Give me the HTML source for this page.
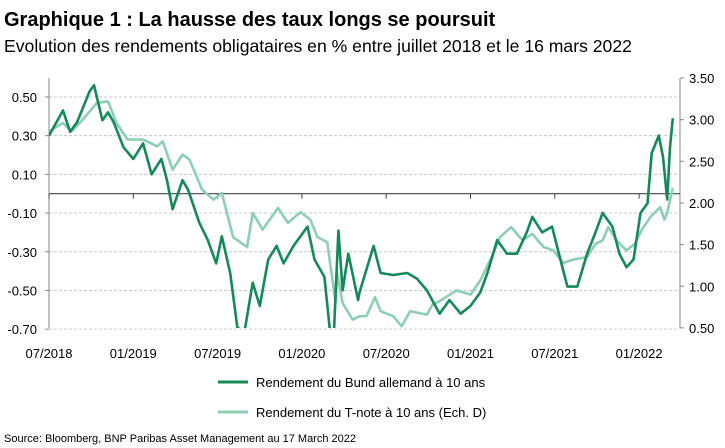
<!DOCTYPE html>
<html><head><meta charset="utf-8"><style>
body{margin:0;background:#fff;font-family:"Liberation Sans",sans-serif;}
#wrap{position:relative;width:725px;height:448px;overflow:hidden;}
</style></head><body>
<div id="wrap">
<svg id="chart" width="725" height="448">
<text x="4" y="26" font-size="20" font-weight="bold" fill="#000">Graphique 1 : La hausse des taux longs se poursuit</text>
<text x="4" y="52" font-size="17.6" fill="#000">Evolution des rendements obligataires en % entre juillet 2018 et le 16 mars 2022</text>
<g id="grid"></g><g id="axes"></g>
<defs><clipPath id="clip"><rect x="49" y="78" width="631" height="250"/></clipPath></defs>
<g id="series" clip-path="url(#clip)"></g>
<line x1="218" y1="382" x2="248" y2="382" stroke="#148a59" stroke-width="3"/>
<text x="256" y="387" font-size="13">Rendement du Bund allemand à 10 ans</text>
<line x1="218" y1="412" x2="248" y2="412" stroke="#8ecfb4" stroke-width="3"/>
<text x="256" y="417" font-size="13">Rendement du T-note à 10 ans (Ech. D)</text>
<text x="4" y="442" font-size="11">Source: Bloomberg, BNP Paribas Asset Management au 17 March 2022</text>
</svg></div>
<script>
const leftTicks=[0.50,0.30,0.10,-0.10,-0.30,-0.50,-0.70];
const rightTicks=[3.50,3.00,2.50,2.00,1.50,1.00,0.50];
const xTickMonths=[0,6,12,18,24,30,36,42];
const xTickLabels=["07/2018","01/2019","07/2019","01/2020","07/2020","01/2021","07/2021","01/2022"];
const bundMonths=[0,1.0,1.5,2.0,2.9,3.2,3.8,4.2,4.6,5.3,6.0,6.7,7.3,8.0,8.4,8.8,9.5,9.9,10.7,11.3,11.9,12.3,12.9,13.4,13.9,14.5,15.0,15.6,16.2,16.7,17.4,18.4,18.9,19.6,20.2,20.6,20.9,21.3,22.0,22.1,23.1,23.6,24.5,25.5,26.2,26.9,27.8,28.5,29.3,30.0,30.7,31.2,31.9,32.6,33.3,34.0,34.4,35.1,35.8,36.4,36.9,37.6,38.3,38.9,39.4,40.1,40.6,41.1,41.6,42.1,42.6,42.9,43.4,43.7,44.0,44.2,44.4];
const bundValues=[0.30,0.43,0.32,0.37,0.53,0.56,0.38,0.42,0.37,0.24,0.18,0.26,0.10,0.18,0.07,-0.08,0.07,0.02,-0.15,-0.24,-0.36,-0.22,-0.41,-0.69,-0.72,-0.46,-0.58,-0.34,-0.27,-0.36,-0.27,-0.17,-0.34,-0.43,-0.85,-0.19,-0.50,-0.31,-0.55,-0.51,-0.27,-0.41,-0.42,-0.41,-0.44,-0.50,-0.62,-0.55,-0.62,-0.58,-0.51,-0.41,-0.24,-0.31,-0.31,-0.20,-0.12,-0.20,-0.17,-0.34,-0.48,-0.48,-0.31,-0.20,-0.10,-0.17,-0.31,-0.38,-0.34,-0.10,-0.05,0.21,0.30,0.19,-0.03,0.24,0.39];
const tnoteMonths=[0,1.0,1.6,2.4,3.4,4.2,4.8,5.6,6.7,7.7,8.1,8.8,9.5,10.0,10.9,11.7,12.3,13.1,14.1,14.5,15.2,16.3,17.0,17.9,18.6,19.1,19.8,20.4,20.5,20.9,21.6,22.1,22.6,23.2,23.6,24.5,25.1,25.7,26.9,27.3,27.8,29.0,30.0,30.7,31.5,32.1,32.9,33.7,34.4,35.2,35.9,36.6,37.3,38.3,38.9,39.4,39.8,40.4,41.1,41.7,42.2,42.8,43.5,43.8,44.0,44.4];
const tnoteValues=[2.86,2.96,2.86,3.00,3.20,3.22,2.96,2.76,2.76,2.68,2.74,2.40,2.58,2.52,2.16,2.04,2.12,1.59,1.47,1.88,1.68,1.94,1.76,1.89,1.80,1.59,1.53,0.80,1.16,0.80,0.60,0.64,0.64,0.87,0.70,0.64,0.52,0.70,0.66,0.78,0.82,0.95,0.90,1.07,1.35,1.59,1.71,1.55,1.63,1.47,1.43,1.28,1.32,1.35,1.51,1.55,1.71,1.55,1.43,1.51,1.68,1.83,1.95,1.80,1.88,2.18];

const NS="http://www.w3.org/2000/svg";
const X=m=>49+m*14.05;
const YL=v=>193.7-v*193.5;
const YR=v=>78+(3.5-v)*83.3;
function mk(tag,attrs,parent){const e=document.createElementNS(NS,tag);for(const k in attrs)e.setAttribute(k,attrs[k]);parent.appendChild(e);return e;}
const grid=document.getElementById('grid'),axes=document.getElementById('axes'),ser=document.getElementById('series');
leftTicks.forEach(t=>{
  const y=YL(t);
  const g=mk('line',{x1:49,x2:680,y1:y,y2:y,stroke:'#c8c8c8','stroke-dasharray':'3,2','stroke-width':1},grid);
  
  
  const tk=mk('line',{x1:45,x2:49,y1:y,y2:y,stroke:'#888'},axes);
  
  
  const tx=mk('text',{x:37,y:y+5,'font-size':13,'text-anchor':'end'},axes);tx.textContent=t.toFixed(2);
  
  
});
rightTicks.forEach(t=>{
  const y=YR(t);
  const tk=mk('line',{x1:680,x2:684,y1:y,y2:y,stroke:'#888'},axes);
  
  
  const tx=mk('text',{x:689,y:y+5,'font-size':13},axes);tx.textContent=t.toFixed(2);
  
  
});
const la=mk('line',{x1:49,x2:49,y1:78,y2:328,stroke:'#888'},axes);


const ra=mk('line',{x1:680,x2:680,y1:78,y2:328,stroke:'#888'},axes);


const zl=mk('line',{x1:49,x2:680,y1:YL(0),y2:YL(0),stroke:'#444','stroke-width':1.2},axes);


xTickMonths.forEach((m,i)=>{
  const x=X(m);
  const tk=mk('line',{x1:x,x2:x,y1:YL(0),y2:YL(0)+5,stroke:'#444'},axes);
  
  
  const tx=mk('text',{x:x,y:358,'font-size':13,'text-anchor':'middle'},axes);tx.textContent=xTickLabels[i];
  
  
});
const tp=mk('path',{d:tnoteMonths.map((m,i)=>(i?'L':'M')+X(m).toFixed(1)+','+YR(tnoteValues[i]).toFixed(1)).join(''),fill:'none',stroke:'#8ecfb4','stroke-width':2.6,'stroke-linejoin':'round'},ser);


const bp=mk('path',{d:bundMonths.map((m,i)=>(i?'L':'M')+X(m).toFixed(1)+','+YL(bundValues[i]).toFixed(1)).join(''),fill:'none',stroke:'#148a59','stroke-width':2.6,'stroke-linejoin':'round'},ser);


</script>
</body></html>
